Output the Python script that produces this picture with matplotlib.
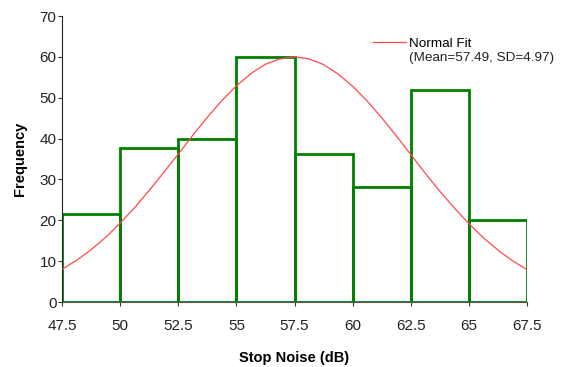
import matplotlib as mpl
mpl.rc('font', family='Liberation Sans', size=9)
import matplotlib.pyplot as plt
import numpy as np

# histogram bins (left edges) and heights
bin_left = [47.5, 50, 52.5, 55, 57.5, 60, 62.5, 65]
bin_width = 2.5
freq = [21.5, 37.7, 40, 60, 36.2, 28.2, 52, 20]

# normal fit curve
fit_x = [47.5, 48.125, 48.75, 49.375, 50, 50.625, 51.25, 51.875, 52.5, 53.125,
         53.75, 54.375, 55, 55.625, 56.25, 56.875, 57.5, 58.125, 58.75, 59.375,
         60, 60.625, 61.25, 61.875, 62.5, 63.125, 63.75, 64.375, 65, 65.625,
         66.25, 66.875, 67.5]
fit_y = [8.0, 10.2, 12.8, 15.8, 19.3, 23.1, 27.3, 31.7, 36.2, 40.8,
         45.2, 49.3, 52.9, 55.9, 58.2, 59.5, 60.0, 59.5, 58.1, 55.8,
         52.8, 49.2, 45.1, 40.7, 36.1, 31.5, 27.1, 23.0, 19.2, 15.7,
         12.7, 10.1, 7.9]
fit_label = 'Normal Fit'
fit_params = '(Mean=57.49, SD=4.97)'

xticks = [47.5, 50, 52.5, 55, 57.5, 60, 62.5, 65, 67.5]
xticklabels = ['47.5', '50', '52.5', '55', '57.5', '60', '62.5', '65', '67.5']
yticks = [0, 10, 20, 30, 40, 50, 60, 70]

W, H = 561, 367
fig = plt.figure(figsize=(W / 100, H / 100), dpi=100)
ax = fig.add_axes([62 / W, 1 - 302 / H, 465 / W, 286 / H])

ax.bar(bin_left, freq, width=bin_width, align='edge', fill=False,
       edgecolor='#008000', linewidth=2, zorder=2)
ax.plot(fit_x, fit_y, color='#ff4a4a', lw=0.9, label=fit_label, zorder=3)

ax.set_xlim(47.5, 67.5)
ax.set_ylim(0, 70)
ax.set_xticks(xticks)
ax.set_xticklabels(xticklabels)
ax.set_yticks(yticks)
ax.spines['top'].set_visible(False)
ax.spines['right'].set_visible(False)
ax.spines['left'].set_color('#222222')
ax.spines['bottom'].set_color('#555555')
ax.tick_params(direction='out', length=3, width=0.8, colors='#333333',
               labelcolor='#222222', labelsize=11)
ax.tick_params(axis='x', pad=9)
ax.tick_params(axis='y', pad=1)
ax.set_xlabel('Stop Noise (dB)', fontweight='bold', fontsize=10.5, labelpad=13)
ax.set_ylabel('Frequency', fontweight='bold', fontsize=10.5, labelpad=9)

ax.legend(loc='upper left', bbox_to_anchor=(373 / W, 1 - 37.5 / H),
          bbox_transform=fig.transFigure, frameon=False, borderpad=0,
          borderaxespad=0, fontsize=9.7, handlelength=2.45,
          handletextpad=0.25)
fig.text(409 / W, 1 - 58.5 / H, fit_params, fontsize=9.7, color='#222222',
         ha='left', va='center')

fig.savefig('out.png', dpi=100)
